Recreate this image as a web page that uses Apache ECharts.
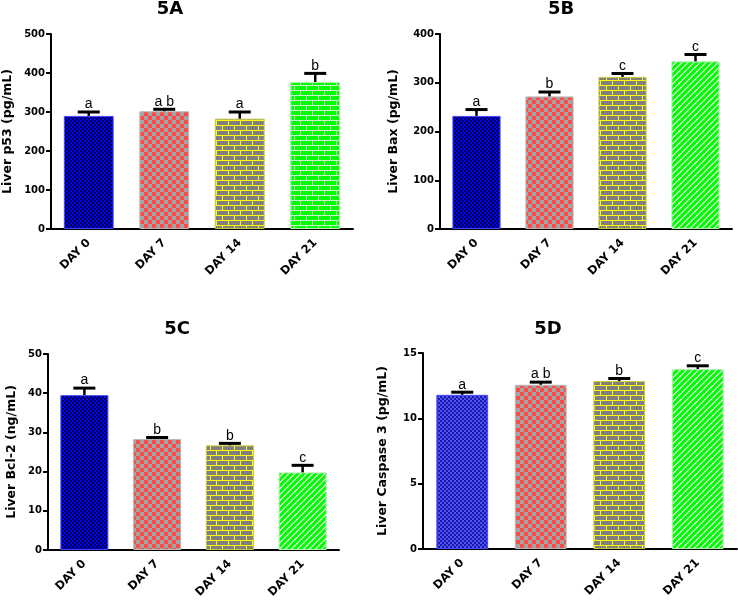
<!DOCTYPE html>
<html><head><meta charset="utf-8">
<script src="https://cdn.jsdelivr.net/npm/echarts@6/dist/echarts.min.js"></script>
<style>html,body{margin:0;padding:0;background:#fff}#c{width:738px;height:603px}</style>
</head><body><div id="c"></div>
<script>
// ---- data ----
const categories = ['DAY 0', 'DAY 7', 'DAY 14', 'DAY 21'];

const p53Mean = [290, 302, 283, 377];
const p53Err = [10, 5, 17, 22];
const p53Letters = ['a', 'a b', 'a', 'b'];

const baxMean = [232, 272, 312, 344];
const baxErr = [13, 9, 7, 14];
const baxLetters = ['a', 'b', 'c', 'c'];

const bcl2Mean = [39.5, 28.3, 26.7, 19.8];
const bcl2Err = [1.8, 0.4, 0.5, 1.8];
const bcl2Letters = ['a', 'b', 'b', 'c'];

const casp3Mean = [11.8, 12.57, 12.85, 13.77];
const casp3Err = [0.2, 0.2, 0.2, 0.25];
const casp3Letters = ['a', 'a b', 'b', 'c'];

const titles = ['5A', '5B', '5C', '5D'];
const yNames = ['Liver p53 (pg/mL)', 'Liver Bax (pg/mL)', 'Liver Bcl-2 (ng/mL)', 'Liver Caspase 3 (pg/mL)'];
const yMax = [500, 400, 50, 15];
const yInterval = [100, 100, 10, 5];

// ---- patterns ----
function mk(w, h, draw) {
  const c = document.createElement('canvas'); c.width = w; c.height = h;
  const g = c.getContext('2d'); draw(g);
  return { image: c, repeat: 'repeat' };
}
function checker(size, a, b) {
  return mk(size * 2, size * 2, g => {
    g.fillStyle = b; g.fillRect(0, 0, size * 2, size * 2);
    g.fillStyle = a; g.fillRect(0, 0, size, size); g.fillRect(size, size, size, size);
  });
}
function brick(brickCol, lineCol) {
  return mk(12, 10, g => {
    g.fillStyle = brickCol; g.fillRect(0, 0, 12, 10);
    g.fillStyle = lineCol;
    g.fillRect(0, 0, 12, 1); g.fillRect(0, 5, 12, 1);
    g.fillRect(0, 0, 1, 5); g.fillRect(6, 5, 1, 5);
  });
}
function diag(a, b) {
  return mk(6, 6, g => {
    g.fillStyle = a; g.fillRect(0, 0, 6, 6);
    g.fillStyle = b;
    for (let i = 0; i < 6; i++) { g.fillRect(i, 5 - i, 1, 1); g.fillRect((i + 1) % 6, 5 - i, 1, 1); }
  });
}
const patNavy = checker(2, '#0000ff', '#000040');
const patNavyLight = checker(2, '#1818b8', '#5454e4');
const patRed = checker(4, '#ff4a4a', '#a4a4a4');
const patYellow = brick('#7f7f7f', '#ffff00');
const patGreenBrick = brick('#00ff00', '#d0ecd0');
const patGreenDiag = diag('#00ff00', '#c4ecc4');

const panelPatterns = [
  [patNavy, patRed, patYellow, patGreenBrick],
  [patNavy, patRed, patYellow, patGreenDiag],
  [patNavy, patRed, patYellow, patGreenDiag],
  [patNavyLight, patRed, patYellow, patGreenDiag]
];
const borderCols = ['#4848ff', '#b8b8b8', '#c8c840', '#b0f0b0'];

const means = [p53Mean, baxMean, bcl2Mean, casp3Mean];
const errs = [p53Err, baxErr, bcl2Err, casp3Err];
const letters = [p53Letters, baxLetters, bcl2Letters, casp3Letters];

const grids = [
  { left: 50, top: 34, width: 303, height: 195 },
  { left: 440, top: 34, width: 292, height: 195 },
  { left: 48, top: 354, width: 291, height: 196 },
  { left: 423, top: 353, width: 314, height: 196 }
];
const nameGaps = [37, 40, 30, 34];
const titlePos = [[170, 9], [561, 9], [177, 329], [548, 329]];

const FONT = 'DejaVu Sans';

const option = {
  animation: false,
  backgroundColor: '#fff',
  grid: grids.map(g => Object.assign({ containLabel: false }, g)),
  xAxis: grids.map((g, k) => ({
    type: 'category', gridIndex: k, data: categories,
    axisLine: { lineStyle: { color: '#000', width: 2 } },
    axisTick: { alignWithLabel: true, length: 5, lineStyle: { color: '#000', width: 2 } },
    axisLabel: { rotate: 45, color: '#000', fontFamily: FONT, fontWeight: 'bold', fontSize: 11.5, margin: 12 },
    splitLine: { show: false }
  })),
  yAxis: grids.map((g, k) => ({
    type: 'value', gridIndex: k, min: 0, max: yMax[k], interval: yInterval[k],
    name: yNames[k], nameLocation: 'middle', nameRotate: 90, nameGap: nameGaps[k],
    nameTextStyle: { color: '#000', fontFamily: FONT, fontWeight: 'bold', fontSize: 12.5 },
    axisLine: { show: true, lineStyle: { color: '#000', width: 2 } },
    axisTick: { show: true, length: 5, lineStyle: { color: '#000', width: 2 } },
    axisLabel: { color: '#000', fontFamily: FONT, fontWeight: 'bold', fontSize: 10, margin: 6 },
    splitLine: { show: false }
  })),
  graphic: titles.map((t, k) => ({
    type: 'text', x: titlePos[k][0], y: titlePos[k][1],
    style: { text: t, align: 'center', verticalAlign: 'middle', fontFamily: FONT, fontWeight: 'bold', fontSize: 18, fill: '#000' }
  })),
  series: []
};

for (let k = 0; k < 4; k++) {
  option.series.push({
    type: 'bar', xAxisIndex: k, yAxisIndex: k, barWidth: '66%',
    data: means[k].map((v, i) => ({
      value: v,
      itemStyle: { color: panelPatterns[k][i], borderColor: borderCols[i], borderWidth: 1 }
    }))
  });
  const lets = letters[k];
  option.series.push({
    type: 'custom', xAxisIndex: k, yAxisIndex: k, clip: false, z: 5,
    data: means[k].map((v, i) => [i, v, errs[k][i]]),
    renderItem: function (params, api) {
      const i = api.value(0), m = api.value(1), e = api.value(2);
      const base = api.coord([i, m]);
      const top = api.coord([i, m + e]);
      const hw = 11;
      return {
        type: 'group',
        children: [
          { type: 'line', shape: { x1: top[0], y1: base[1], x2: top[0], y2: top[1] }, style: { stroke: '#000', lineWidth: 2.5 } },
          { type: 'line', shape: { x1: top[0] - hw, y1: top[1], x2: top[0] + hw, y2: top[1] }, style: { stroke: '#000', lineWidth: 3 } },
          { type: 'text', x: top[0], y: top[1] - 0.5, style: { text: lets[params.dataIndex], align: 'center', verticalAlign: 'bottom', fontFamily: 'Liberation Sans', fontSize: 14, fill: '#000' } }
        ]
      };
    }
  });
}

const chart = echarts.init(document.getElementById('c'), null, { renderer: 'canvas' });
chart.setOption(option);
</script>
</body></html>
